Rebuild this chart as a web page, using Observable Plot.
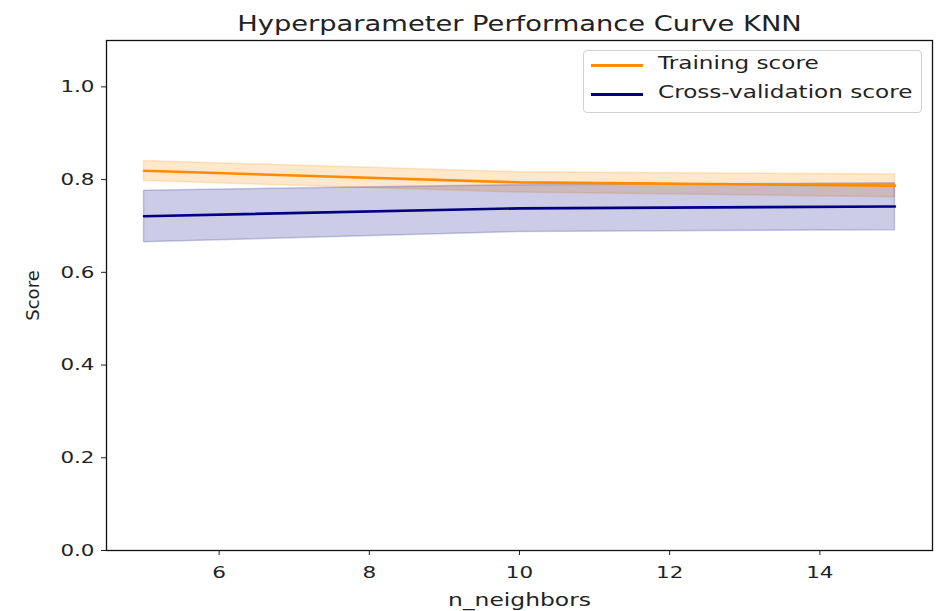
<!DOCTYPE html>
<html>
<head>
<meta charset="utf-8">
<script src="https://cdn.jsdelivr.net/npm/d3@7"></script>
<script src="https://cdn.jsdelivr.net/npm/@observablehq/plot@0.6"></script>
<style>
  html, body { margin: 0; padding: 0; background: #fff; }
  #wrap { position: relative; width: 944px; height: 611px; font-family: "DejaVu Sans", sans-serif; }
  #legend { position: absolute; left: 583px; top: 50px; width: 339px; height: 63px;
    border: 1px solid #d0d0d0; border-radius: 4px; background: rgba(255,255,255,0.8); box-sizing: border-box; }
  .item { position: absolute; left: 7px; height: 20px; }
  .swatch { position: absolute; left: 0; width: 52px; height: 3px; }
  .lab { position: absolute; left: 67px; top: -12px; font-size: 17.8px; color: #222; white-space: nowrap;
    transform: scaleX(1.3); transform-origin: left center; }
</style>
</head>
<body>
<div id="wrap"></div>
<script>
const titleText = "Hyperparameter Performance Curve KNN";
const xLabel = "n_neighbors";
const yLabel = "Score";
const seriesNames = ["Training score", "Cross-validation score"];
const seriesColors = ["#ff8c00", "#000080"];

const paramRange = [5, 10, 15];
const trainMean  = [0.819, 0.794, 0.787];
const trainUpper = [0.840, 0.816, 0.811];
const trainLower = [0.797, 0.772, 0.762];
const cvMean  = [0.721, 0.738, 0.742];
const cvUpper = [0.776, 0.788, 0.792];
const cvLower = [0.665, 0.687, 0.691];

const xTicks = [6, 8, 10, 12, 14];
const yTicks = [0.0, 0.2, 0.4, 0.6, 0.8, 1.0];

const train = paramRange.map((x, i) => ({x, mean: trainMean[i], lo: trainLower[i], hi: trainUpper[i]}));
const cv = paramRange.map((x, i) => ({x, mean: cvMean[i], lo: cvLower[i], hi: cvUpper[i]}));

const chart = Plot.plot({
  width: 944,
  height: 611,
  marginLeft: 106,
  marginRight: 12,
  marginTop: 40,
  marginBottom: 61,
  style: {fontFamily: "DejaVu Sans, sans-serif", fontSize: "16.5px", color: "#222", background: "#fff"},
  x: {domain: [4.5, 15.5], ticks: xTicks, tickSize: 5, tickPadding: 11, label: null},
  y: {domain: [0, 1.1], ticks: yTicks, tickFormat: d3.format(".1f"), tickSize: 5, tickPadding: 7, label: null},
  marks: [
    Plot.areaY(train, {x: "x", y1: "lo", y2: "hi", fill: seriesColors[0], fillOpacity: 0.2, stroke: seriesColors[0], strokeOpacity: 0.2, strokeWidth: 1.5}),
    Plot.areaY(cv, {x: "x", y1: "lo", y2: "hi", fill: seriesColors[1], fillOpacity: 0.2, stroke: seriesColors[1], strokeOpacity: 0.2, strokeWidth: 1.5}),
    Plot.line(train, {x: "x", y: "mean", stroke: seriesColors[0], strokeWidth: 2.6}),
    Plot.line(cv, {x: "x", y: "mean", stroke: seriesColors[1], strokeWidth: 2.6}),
    Plot.frame({stroke: "#111", strokeWidth: 1.3}),
    Plot.text([titleText], {frameAnchor: "top", dy: -24, fontSize: 21, fill: "#222"}),
    Plot.text([xLabel], {frameAnchor: "bottom", dy: 55, fontSize: 18, fill: "#222"}),
    Plot.text([yLabel], {frameAnchor: "left", dx: -73, rotate: -90, textAnchor: "middle", fontSize: 18, fill: "#222"})
  ]
});

const wrap = document.getElementById("wrap");
wrap.appendChild(chart);

// emulate the horizontally stretched raster: widen non-rotated text (anchor preserved)
chart.querySelectorAll("text").forEach(t => {
  const tr = (t.getAttribute("transform") || "") + " " + ((t.parentNode && t.parentNode.getAttribute && t.parentNode.getAttribute("transform")) || "");
  if (tr.includes("rotate")) return;
  const len = t.getComputedTextLength();
  if (len > 0) {
    t.setAttribute("textLength", (len * 1.3).toFixed(1));
    t.setAttribute("lengthAdjust", "spacingAndGlyphs");
  }
});

const legend = document.createElement("div");
legend.id = "legend";
seriesNames.forEach((name, i) => {
  const item = document.createElement("div");
  item.className = "item";
  item.style.top = (13 + i * 29) + "px";
  const sw = document.createElement("div");
  sw.className = "swatch";
  sw.style.background = seriesColors[i];
  const lab = document.createElement("div");
  lab.className = "lab";
  lab.textContent = name;
  item.appendChild(sw); item.appendChild(lab);
  legend.appendChild(item);
});
wrap.appendChild(legend);
</script>
</body>
</html>
